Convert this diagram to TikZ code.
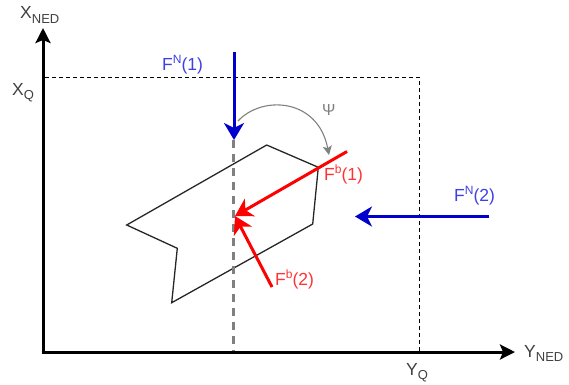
\documentclass[tikz,border=0pt]{standalone}
\usepackage{fontspec}
\setmainfont{Liberation Sans}
\usetikzlibrary{arrows.meta}
\definecolor{fblue}{HTML}{0000CC}
\definecolor{tblue}{HTML}{3F3FE6}
\definecolor{fred}{HTML}{FF0000}
\definecolor{tred}{HTML}{FF3333}
\definecolor{ggray}{HTML}{808080}
\definecolor{tgray}{HTML}{404040}
\newcommand{\subtxt}[1]{\raisebox{-4.5pt}{\fontsize{13}{14}\selectfont #1}}
\newcommand{\suptxt}[1]{\raisebox{6.5pt}{\fontsize{12}{13}\selectfont #1}}
\begin{document}
\begin{tikzpicture}[x=1pt,y=-1pt,
  font=\fontsize{17.5}{20}\selectfont,
  axis/.style={line width=3pt,-{Stealth[length=15pt,width=15pt,inset=3pt]}},
  guide/.style={line width=1pt,dash pattern=on 4pt off 3pt},
  centerline/.style={line width=3pt,ggray,dash pattern=on 8pt off 6pt},
  bluearrow/.style={line width=3pt,fblue,-{Stealth[length=17pt,width=20pt,inset=5pt]}},
  redarrow/.style={line width=3pt,fred,-{Stealth[length=17pt,width=20pt,inset=5pt]}},
  hull/.style={line width=1.3pt,draw=black!85},
  lbl/.style={inner sep=0pt,anchor=base west},
]
\useasboundingbox (0,0) rectangle (569,384);
% coordinates
\coordinate (O) at (43,352);
\coordinate (xtip) at (43,28);
\coordinate (ytip) at (515,352);
\coordinate (xq) at (45,77);
\coordinate (qc) at (419,77);
\coordinate (yq) at (419,352);
\coordinate (ctop) at (233,140);
\coordinate (cbot) at (233,352);
\coordinate (fn1s) at (234,52);
\coordinate (fn1e) at (234,140);
\coordinate (fn2s) at (489,216.5);
\coordinate (fn2e) at (355,216.5);
\coordinate (fb1s) at (347,151.5);
\coordinate (fbe) at (235,216);
\coordinate (fb2s) at (272,287);
\coordinate (psis) at (238,121);
\coordinate (psie) at (329,155);
% hull polygon
\draw[hull] (126.7,225) -- (266.7,145) -- (318.3,167.3) -- (312.7,224) -- (171.7,302.7) -- (177.3,248.3) -- cycle;
% guides
\draw[guide] (xq) -- (qc) -- (yq);
\draw[centerline] (ctop) -- (cbot);
% axes
\draw[axis] (O) -- (xtip);
\draw[axis] ([xshift=-1.5pt]O) -- (ytip);
% forces
\draw[bluearrow] (fn1s) -- (fn1e);
\draw[bluearrow] (fn2s) -- (fn2e);
\draw[redarrow] (fb1s) -- (fbe);
\draw[redarrow] (fb2s) -- (fbe);
% psi arc
\draw[ggray,line width=1.1pt,-{Stealth[length=9pt,width=9pt,inset=2pt]}] (psis) .. controls (262,95) and (318,98) .. (psie);
% labels
\node[lbl,text=tgray] (lxned) at (20,18.5) {X\subtxt{NED}};
\node[lbl,text=tgray] (lxq) at (12,95) {X\subtxt{Q}};
\node[lbl,text=tgray] (lyned) at (524,357) {Y\subtxt{NED}};
\node[lbl,text=tgray] (lyq) at (406,375) {Y\subtxt{Q}};
\node[lbl,text=tblue] (lfn1) at (162,70) {F\suptxt{N}(1)};
\node[lbl,text=tblue] (lfn2) at (454,201) {F\suptxt{N}(2)};
\node[lbl,text=tred] (lfb1) at (324,180) {F\suptxt{b}(1)};
\node[lbl,text=tred] (lfb2) at (275,285) {F\suptxt{b}(2)};
\node[lbl,text=ggray,font=\fontsize{16}{18}\selectfont] (lpsi) at (322,115) {Ψ};
\end{tikzpicture}
\end{document}
